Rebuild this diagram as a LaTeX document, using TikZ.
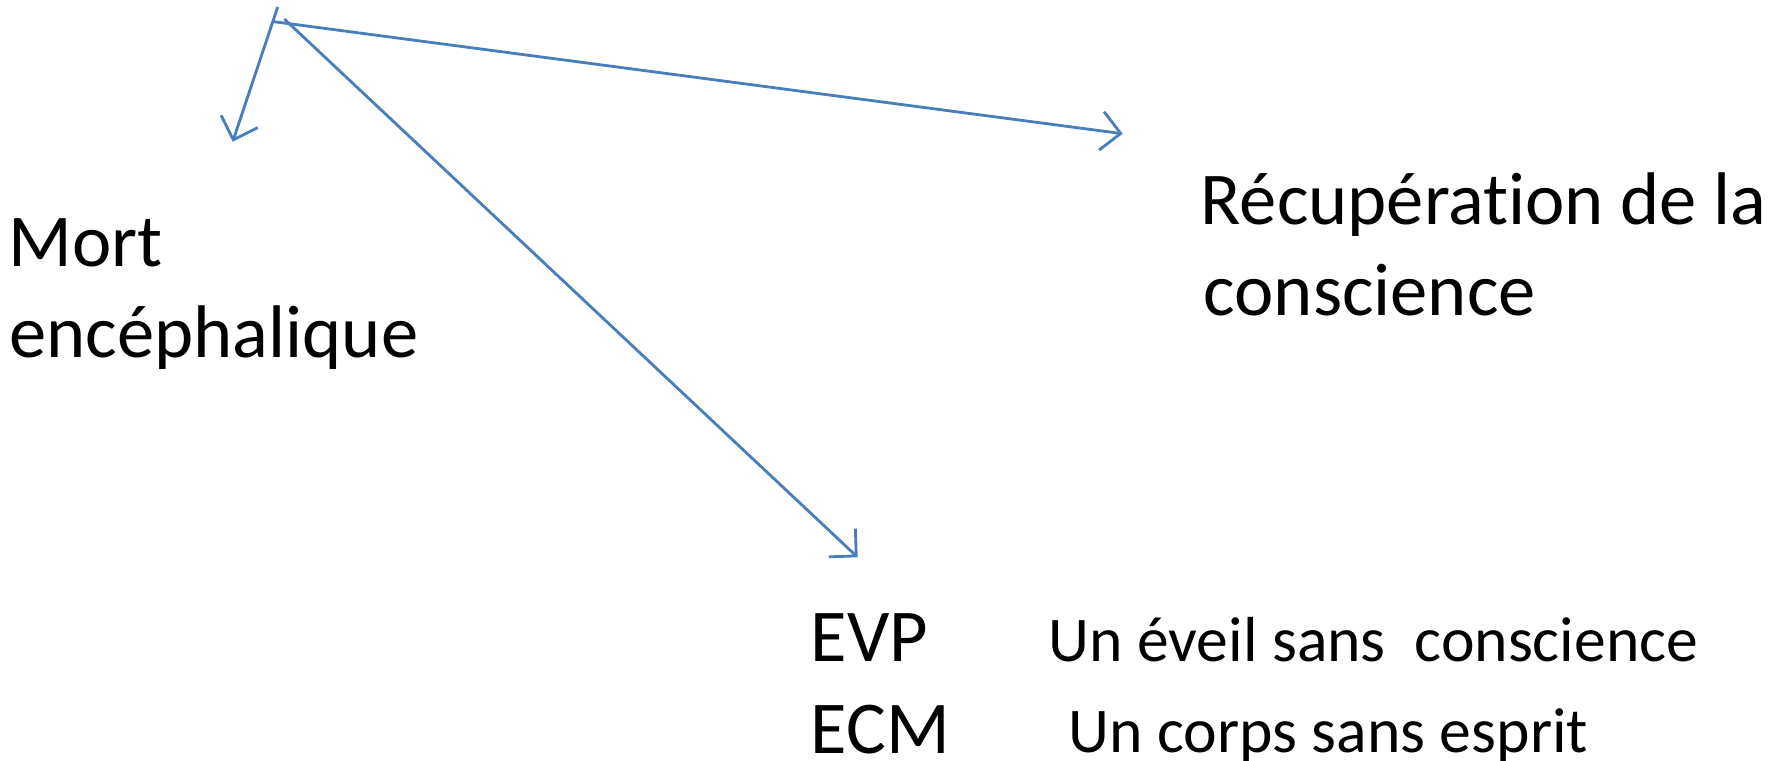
\documentclass[tikz,border=0pt]{standalone}
\usepackage{fontspec}
\setmainfont{Carlito}[Ligatures=NoCommon]
\usetikzlibrary{arrows.meta}

\begin{document}
\begin{tikzpicture}[
    x=0.01cm, y=-0.01cm,
    big/.style={anchor=base west, inner sep=0pt, font=\fontsize{21.2}{25}\selectfont},
    small/.style={anchor=base west, inner sep=0pt, font=\fontsize{18.1}{22}\selectfont},
    link/.style={draw=linkblue, line width=0.8pt, -{Straight Barb[length=5.5pt, width=11pt]}},
]
\definecolor{linkblue}{HTML}{4A7EBB}
\useasboundingbox (0,0) rectangle (1788,760);

% Labels
\node[big] (mort1) at (8,266) {Mort};
\node[big] (mort2) at (9,357) {encéphalique};

\node[big] (recup1) at (1200,224) {Récupération de la};
\node[big] (recup2) at (1203,315) {conscience};

\node[big] (evp) at (810,661) {EVP};
\node[big] (ecm) at (810,753) {ECM};
\node[small] (evptxt) at (1048,661) {Un éveil sans~~conscience};
\node[small] (ecmtxt) at (1068,752) {Un corps sans esprit};

% Arrows
\coordinate (s1) at (277.7,7);
\coordinate (s2) at (274,21.7);
\coordinate (s3) at (284.3,19);
\coordinate (e1) at (232.7,141.7);
\coordinate (e2) at (1122.7,133.7);
\coordinate (e3) at (857.7,557.3);

\draw[link] (s1) -- (e1);
\draw[link] (s2) -- (e2);
\draw[link] (s3) -- (e3);

\end{tikzpicture}
\end{document}
